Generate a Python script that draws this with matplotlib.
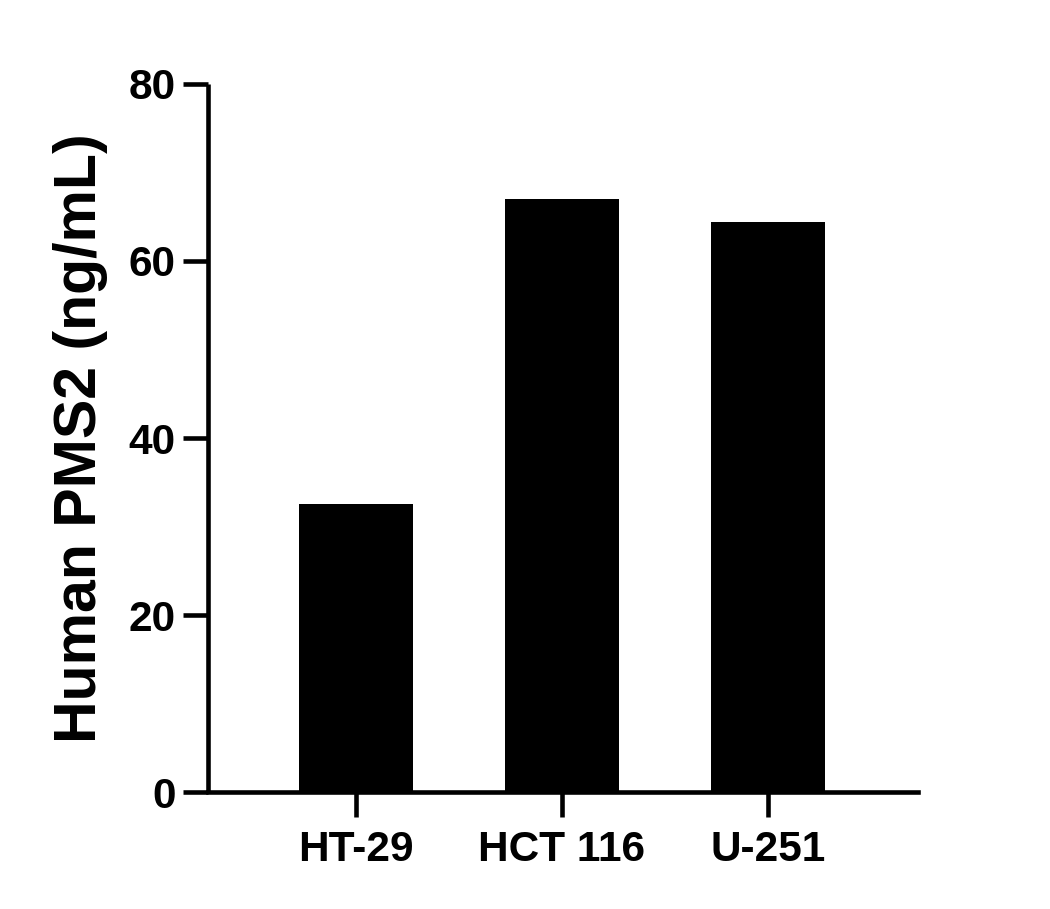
import matplotlib
matplotlib.use('Agg')
import matplotlib.pyplot as plt
import numpy as np

cell_lines = ['HT-29', 'HCT 116', 'U-251']
pms2_values = [32.5, 67.0, 64.4]
y_ticks = [0, 20, 40, 60, 80]

plt.rcParams['font.family'] = ['Liberation Sans', 'DejaVu Sans']
plt.rcParams['font.weight'] = 'bold'

fig = plt.figure(figsize=(10.5, 9.09), dpi=100)
ax = fig.add_axes([0.198, 0.1287, 0.676, 0.7789])

x = np.arange(len(cell_lines))
ax.bar(x, pms2_values, width=0.553, color='black')

ax.set_xlim(-0.718, 2.728)
ax.set_ylim(0, 80)
ax.set_yticks(y_ticks)
ax.set_xticks(x)
ax.set_xticklabels(cell_lines)

for side in ['top', 'right']:
    ax.spines[side].set_visible(False)
for side in ['left', 'bottom']:
    ax.spines[side].set_linewidth(3.3)
ax.spines['left'].set_capstyle('butt')

ax.tick_params(axis='both', width=3.3, length=18, labelsize=30.5, pad=5)
ax.tick_params(axis='x', pad=9)
for lbl in ax.get_xticklabels() + ax.get_yticklabels():
    lbl.set_fontweight('bold')

ax.set_ylabel('Human PMS2 (ng/mL)', fontsize=42.5, fontweight='bold', labelpad=15)

fig.savefig('out.png', dpi=100)
